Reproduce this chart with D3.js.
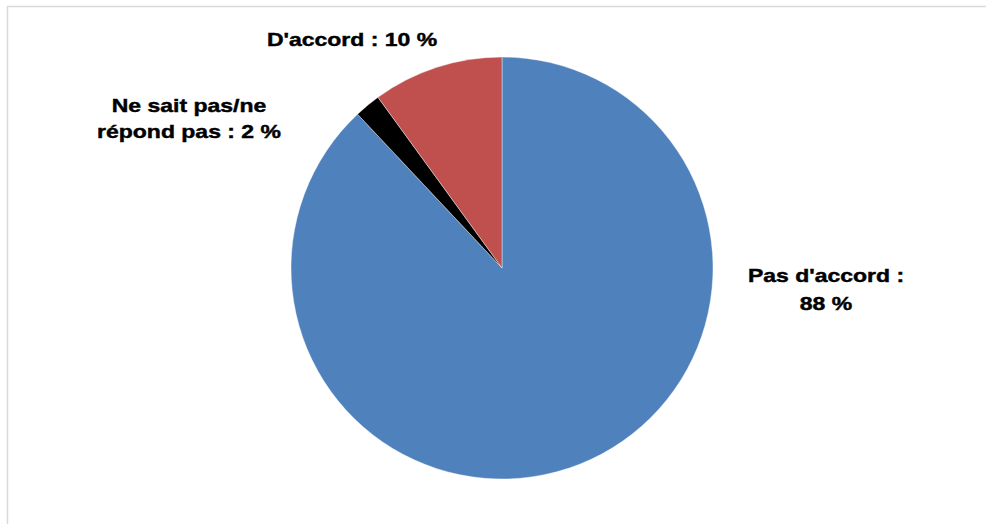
<!DOCTYPE html>
<html>
<head>
<meta charset="utf-8">
<script src="https://cdn.jsdelivr.net/npm/d3@7"></script>
<style>
  html, body { margin: 0; padding: 0; background: #fff; }
  svg { display: block; }
  text { font-family: Arial, "Liberation Sans", sans-serif; font-weight: bold; fill: #000; stroke: #000; stroke-width: 0.45px; }
</style>
</head>
<body>
<svg id="chart" width="986" height="524"></svg>
<script>
// Survey answers, clockwise from 12 o'clock
const categories = ["Pas d'accord", "Ne sait pas/ne répond pas", "D'accord"];
const values = [88, 2, 10];
const colors = ["#4F81BD", "#000000", "#C0504D"];
// Label lines for each slice
const labelLines = [
  ["Pas d'accord :", "88 %"],
  ["Ne sait pas/ne", "répond pas : 2 %"],
  ["D'accord : 10 %"]
];

const width = 986, height = 524;
const cx = 502, cy = 268, radius = 211;

// Label anchor (offset from pie centre) and baseline offsets per line
const labelLayout = [
  { dx: 324, dy: [14, 42] },
  { dx: -313, dy: [-156, -130] },
  { dx: -150, dy: [-222] }
];
// Labels use a widened bold face
const labelStretch = 1.21;

const svg = d3.select("#chart");

// Outer frame
svg.append("rect")
  .attr("x", 7.5).attr("y", 6.5)
  .attr("width", width + 10).attr("height", height + 10)
  .attr("fill", "none")
  .attr("stroke", "#d9d9d9")
  .attr("stroke-width", 1.5);

const data = categories.map((c, i) => ({ name: c, value: values[i], color: colors[i], lines: labelLines[i], layout: labelLayout[i] }));

const pie = d3.pie().sort(null).value(d => d.value);
const arc = d3.arc().innerRadius(0).outerRadius(radius);

const g = svg.append("g").attr("transform", `translate(${cx},${cy})`);

g.selectAll("path.slice")
  .data(pie(data))
  .join("path")
  .attr("class", "slice")
  .attr("d", arc)
  .attr("fill", d => d.data.color)
  .attr("stroke", "#ffffff")
  .attr("stroke-width", 0.4);

const labels = g.selectAll("g.label")
  .data(data)
  .join("g")
  .attr("class", "label")
  .attr("transform", d => `translate(${d.layout.dx},0) scale(${labelStretch},1)`)
  .append("text")
  .attr("text-anchor", "middle")
  .style("font-size", "19px");

labels.selectAll("tspan")
  .data(d => d.lines.map((t, i) => ({ t, y: d.layout.dy[i] })))
  .join("tspan")
  .attr("x", 0)
  .attr("y", d => d.y)
  .text(d => d.t);
</script>
</body>
</html>
